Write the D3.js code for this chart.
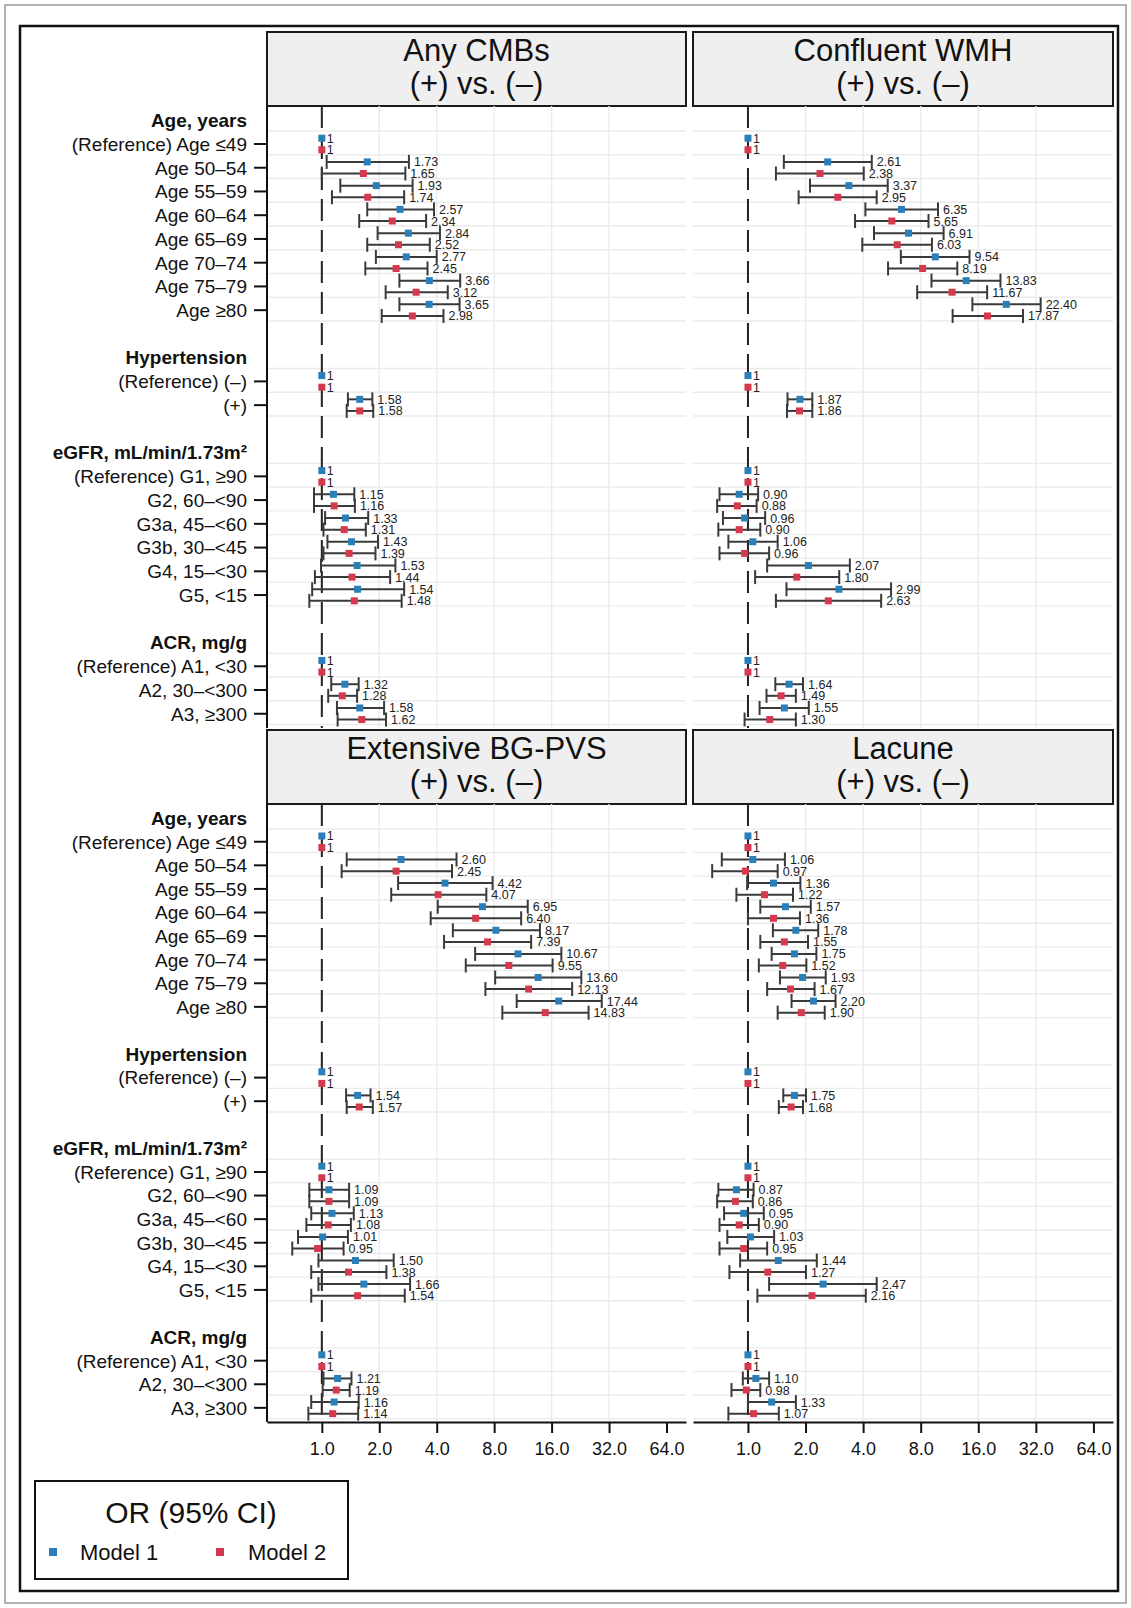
<!DOCTYPE html>
<html><head><meta charset="utf-8">
<script src="https://cdn.jsdelivr.net/npm/d3@7"></script>
<style>
body{margin:0;background:#fff;}
svg{display:block;}
text{font-family:"Liberation Sans",Arial,Helvetica,sans-serif;}
</style>
</head><body>
<svg id="chart" width="1131" height="1608"></svg>
<script>
// ---------------- DATA ----------------
const groupHeaders = ["Age, years", "Hypertension", "eGFR, mL/min/1.73m²", "ACR, mg/g"];
const ageLabels = ["(Reference) Age ≤49", "Age 50–54", "Age 55–59", "Age 60–64", "Age 65–69", "Age 70–74", "Age 75–79", "Age ≥80"];
const htnLabels = ["(Reference) (–)", "(+)"];
const egfrLabels = ["(Reference) G1, ≥90", "G2, 60–<90", "G3a, 45–<60", "G3b, 30–<45", "G4, 15–<30", "G5, <15"];
const acrLabels = ["(Reference) A1, <30", "A2, 30–<300", "A3, ≥300"];

const panelTitles = ["Any CMBs", "Confluent WMH", "Extensive BG-PVS", "Lacune"];
const panelSubtitle = "(+) vs. (–)";
const tickValues = [1, 2, 4, 8, 16, 32, 64];
const tickLabels = ["1.0", "2.0", "4.0", "8.0", "16.0", "32.0", "64.0"];
const gridValues = [2, 4, 8, 16, 32];
const seriesNames = ["Model 1", "Model 2"];
const seriesColors = ["#2b7fb8", "#d5394d"];
const legendTitle = "OR (95% CI)";

// Any CMBs
const cmbM1   = [1,1.73,1.93,2.57,2.84,2.77,3.66,3.65, 1,1.58, 1,1.15,1.33,1.43,1.53,1.54, 1,1.32,1.58];
const cmbM1Lo = [1,1.06,1.25,1.73,1.96,1.92,2.55,2.55, 1,1.37, 1,0.91,1.04,1.07,0.99,0.89, 1,1.12,1.20];
const cmbM1Hi = [1,2.86,2.99,3.87,4.16,4.00,5.31,5.27, 1,1.84, 1,1.48,1.75,1.97,2.43,2.70, 1,1.56,2.12];
const cmbM2   = [1,1.65,1.74,2.34,2.52,2.45,3.12,2.98, 1,1.58, 1,1.16,1.31,1.39,1.44,1.48, 1,1.28,1.62];
const cmbM2Lo = [1,1.00,1.13,1.57,1.73,1.69,2.16,2.06, 1,1.35, 1,0.91,1.02,1.02,0.92,0.86, 1,1.08,1.21];
const cmbM2Hi = [1,2.74,2.70,3.52,3.68,3.58,4.57,4.34, 1,1.86, 1,1.49,1.70,1.91,2.28,2.62, 1,1.53,2.17];

// Confluent WMH
const wmhM1   = [1,2.61,3.37,6.35,6.91,9.54,13.83,22.40, 1,1.87, 1,0.90,0.96,1.06,2.07,2.99, 1,1.64,1.55];
const wmhM1Lo = [1,1.54,2.11,4.11,4.56,6.30,9.11,14.9, 1,1.61, 1,0.71,0.74,0.79,1.26,1.59, 1,1.39,1.15];
const wmhM1Hi = [1,4.44,5.38,9.85,10.54,14.4,20.9,33.9, 1,2.17, 1,1.13,1.23,1.43,3.41,5.60, 1,1.94,2.08];
const wmhM2   = [1,2.38,2.95,5.65,6.03,8.19,11.67,17.87, 1,1.86, 1,0.88,0.90,0.96,1.80,2.63, 1,1.49,1.30];
const wmhM2Lo = [1,1.40,1.84,3.63,3.96,5.40,7.67,11.75, 1,1.60, 1,0.69,0.70,0.71,1.09,1.40, 1,1.25,0.96];
const wmhM2Hi = [1,4.03,4.71,8.79,9.16,12.43,17.8,27.4, 1,2.17, 1,1.11,1.16,1.29,3.00,4.97, 1,1.78,1.78];

// Extensive BG-PVS
const pvsM1   = [1,2.60,4.42,6.95,8.17,10.67,13.60,17.44, 1,1.54, 1,1.09,1.13,1.01,1.50,1.66, 1,1.21,1.16];
const pvsM1Lo = [1,1.35,2.51,4.05,4.86,6.36,8.10,10.5, 1,1.34, 1,0.86,0.88,0.75,0.96,0.96, 1,1.02,0.88];
const pvsM1Hi = [1,5.08,7.85,12.0,13.9,18.0,22.9,29.3, 1,1.80, 1,1.39,1.47,1.37,2.38,2.90, 1,1.43,1.56];
const pvsM2   = [1,2.45,4.07,6.40,7.39,9.55,12.13,14.83, 1,1.57, 1,1.09,1.08,0.95,1.38,1.54, 1,1.19,1.14];
const pvsM2Lo = [1,1.27,2.31,3.72,4.37,5.68,7.20,8.83, 1,1.35, 1,0.86,0.83,0.70,0.88,0.88, 1,1.01,0.85];
const pvsM2Hi = [1,4.81,7.28,11.08,12.5,16.2,20.5,25.0, 1,1.85, 1,1.39,1.42,1.30,2.18,2.72, 1,1.40,1.55];

// Lacune
const lacM1   = [1,1.06,1.36,1.57,1.78,1.75,1.93,2.20, 1,1.75, 1,0.87,0.95,1.03,1.44,2.47, 1,1.10,1.33];
const lacM1Lo = [1,0.73,0.99,1.16,1.35,1.33,1.47,1.69, 1,1.53, 1,0.70,0.75,0.78,0.91,1.29, 1,0.94,1.00];
const lacM1Hi = [1,1.56,1.88,2.13,2.33,2.28,2.55,2.87, 1,2.01, 1,1.07,1.21,1.37,2.29,4.71, 1,1.29,1.78];
const lacM2   = [1,0.97,1.22,1.36,1.55,1.52,1.67,1.90, 1,1.68, 1,0.86,0.90,0.95,1.27,2.16, 1,0.98,1.07];
const lacM2Lo = [1,0.65,0.87,1.00,1.16,1.14,1.26,1.43, 1,1.45, 1,0.69,0.71,0.71,0.80,1.12, 1,0.82,0.79];
const lacM2Hi = [1,1.43,1.72,1.87,2.06,2.02,2.23,2.52, 1,1.94, 1,1.06,1.14,1.26,2.01,4.13, 1,1.16,1.45];

// --------------- BUILD ---------------
const panels = [
  {title: panelTitles[0], col: 0, row: 0, series: [[cmbM1, cmbM1Lo, cmbM1Hi], [cmbM2, cmbM2Lo, cmbM2Hi]]},
  {title: panelTitles[1], col: 1, row: 0, series: [[wmhM1, wmhM1Lo, wmhM1Hi], [wmhM2, wmhM2Lo, wmhM2Hi]]},
  {title: panelTitles[2], col: 0, row: 1, series: [[pvsM1, pvsM1Lo, pvsM1Hi], [pvsM2, pvsM2Lo, pvsM2Hi]]},
  {title: panelTitles[3], col: 1, row: 1, series: [[lacM1, lacM1Lo, lacM1Hi], [lacM2, lacM2Lo, lacM2Hi]]}
];

const groupCats = [ageLabels, htnLabels, egfrLabels, acrLabels];
const slots = [];
let ci = 0;
groupCats.forEach((cats, gi) => {
  slots.push({type: "h", label: groupHeaders[gi]});
  cats.forEach((c, k) => slots.push({type: "c", label: c, idx: ci++, ref: k === 0}));
  if (gi < groupCats.length - 1) slots.push({type: "b"});
});

const colRanges = [[267, 686], [693, 1113]];
const rowRanges = [[106, 728], [804, 1422]];
const stripH = 74;
const FONT = '"Liberation Sans",Arial,Helvetica,sans-serif';

const svg = d3.select("#chart");

// outer frames
svg.append("rect").attr("x", 5).attr("y", 5).attr("width", 1121).attr("height", 1598)
  .attr("fill", "none").attr("stroke", "#999").attr("stroke-width", 1.5);
svg.append("rect").attr("x", 20).attr("y", 26).attr("width", 1098).attr("height", 1565)
  .attr("fill", "#fff").attr("stroke", "#111").attr("stroke-width", 2.5);

panels.forEach(p => {
  const [x0, x1] = colRanges[p.col];
  const [y0, y1] = rowRanges[p.row];
  const x = d3.scaleLog().base(2).domain([0.516, 81]).range([x0, x1]);
  const y = d3.scalePoint().domain(d3.range(slots.length)).range([y0, y1]).padding(0.6);
  const g = svg.append("g");

  // strip
  g.append("rect").attr("x", x0).attr("y", y0 - stripH).attr("width", x1 - x0).attr("height", stripH)
    .attr("fill", "#efefef").attr("stroke", "#1a1a1a").attr("stroke-width", 2);
  g.append("text").attr("x", (x0 + x1) / 2).attr("y", y0 - stripH + 29)
    .attr("text-anchor", "middle").attr("font-size", 31).attr("fill", "#111").text(p.title);
  g.append("text").attr("x", (x0 + x1) / 2).attr("y", y0 - stripH + 62)
    .attr("text-anchor", "middle").attr("font-size", 31).attr("fill", "#111").text(panelSubtitle);

  // gridlines
  g.selectAll(".hg").data(slots.map((s, i) => ({s, i})).filter(d => d.s.type !== "b")).enter()
    .append("line").attr("x1", x0).attr("x2", x1)
    .attr("y1", d => y(d.i) + 10.8).attr("y2", d => y(d.i) + 10.8)
    .attr("stroke", "#ebebeb").attr("stroke-width", 1.4);
  g.selectAll(".vg").data(gridValues).enter().append("line")
    .attr("x1", d => x(d)).attr("x2", d => x(d)).attr("y1", y0).attr("y2", y1)
    .attr("stroke", "#ebebeb").attr("stroke-width", 1.4);

  // reference line
  g.append("line").attr("x1", x(1)).attr("x2", x(1)).attr("y1", y0).attr("y2", y1)
    .attr("stroke", "#222").attr("stroke-width", 2).attr("stroke-dasharray", "22,9");

  const catSlots = slots.map((s, i) => ({s, i})).filter(d => d.s.type === "c");
  const marks = [];
  catSlots.forEach(d => {
    p.series.forEach((ser, m) => {
      marks.push({
        yy: y(d.i) + (m === 0 ? -5.8 : 5.8),
        est: ser[0][d.s.idx], lo: ser[1][d.s.idx], hi: ser[2][d.s.idx],
        ref: d.s.ref, m
      });
    });
  });

  const eb = marks.filter(d => !d.ref);
  const ebG = g.append("g").attr("stroke", "#3a3a3a").attr("stroke-width", 2);
  ebG.selectAll(".eh").data(eb).enter().append("line")
    .attr("x1", d => x(d.lo)).attr("x2", d => x(d.hi)).attr("y1", d => d.yy).attr("y2", d => d.yy);
  ebG.selectAll(".el").data(eb).enter().append("line")
    .attr("x1", d => x(d.lo)).attr("x2", d => x(d.lo)).attr("y1", d => d.yy - 7).attr("y2", d => d.yy + 7);
  ebG.selectAll(".er").data(eb).enter().append("line")
    .attr("x1", d => x(d.hi)).attr("x2", d => x(d.hi)).attr("y1", d => d.yy - 7).attr("y2", d => d.yy + 7);

  g.selectAll(".pt").data(marks).enter().append("rect")
    .attr("x", d => x(d.est) - 3.5).attr("y", d => d.yy - 3.5).attr("width", 7).attr("height", 7)
    .attr("fill", d => seriesColors[d.m]);

  g.selectAll(".lb").data(marks).enter().append("text")
    .attr("x", d => x(d.hi) + 5).attr("y", d => d.yy).attr("dy", "0.36em")
    .attr("font-size", 12.5).attr("fill", "#222")
    .text(d => d.ref ? "1" : d.est.toFixed(2));

  // y axis
  if (p.col === 0) {
    g.append("line").attr("x1", x0).attr("x2", x0).attr("y1", y0).attr("y2", y1)
      .attr("stroke", "#111").attr("stroke-width", 2);
    g.selectAll(".yt").data(catSlots).enter().append("line")
      .attr("x1", x0 - 13).attr("x2", x0).attr("y1", d => y(d.i)).attr("y2", d => y(d.i))
      .attr("stroke", "#111").attr("stroke-width", 2);
    g.selectAll(".yl").data(slots.map((s, i) => ({s, i})).filter(d => d.s.type !== "b")).enter()
      .append("text").attr("x", x0 - 20).attr("y", d => y(d.i)).attr("dy", "0.36em")
      .attr("text-anchor", "end").attr("font-size", 19)
      .attr("font-weight", d => d.s.type === "h" ? "bold" : "normal")
      .attr("fill", "#111").text(d => d.s.label);
  }
  // x axis
  if (p.row === 1) {
    const xa = g.append("g").attr("transform", `translate(0,${y1})`)
      .call(d3.axisBottom(x).tickValues(tickValues).tickFormat((d, i) => tickLabels[i])
        .tickSizeInner(11).tickSizeOuter(0).tickPadding(9));
    xa.select(".domain").attr("stroke", "#111").attr("stroke-width", 2);
    xa.selectAll(".tick line").attr("stroke", "#111").attr("stroke-width", 2);
    xa.selectAll(".tick text").attr("font-size", 18).attr("fill", "#111").attr("font-family", FONT);
  }
});

// legend
const lg = svg.append("g");
lg.append("rect").attr("x", 35).attr("y", 1481).attr("width", 313).attr("height", 98)
  .attr("fill", "#fff").attr("stroke", "#111").attr("stroke-width", 2);
lg.append("text").attr("x", 191).attr("y", 1523).attr("text-anchor", "middle")
  .attr("font-size", 30).attr("fill", "#111").text(legendTitle);
const legX = [[53, 80], [220, 248]];
seriesNames.forEach((n, i) => {
  lg.append("rect").attr("x", legX[i][0] - 4).attr("y", 1548).attr("width", 8).attr("height", 8)
    .attr("fill", seriesColors[i]);
  lg.append("text").attr("x", legX[i][1]).attr("y", 1560).attr("font-size", 22)
    .attr("fill", "#111").text(n);
});
</script>
</body></html>
